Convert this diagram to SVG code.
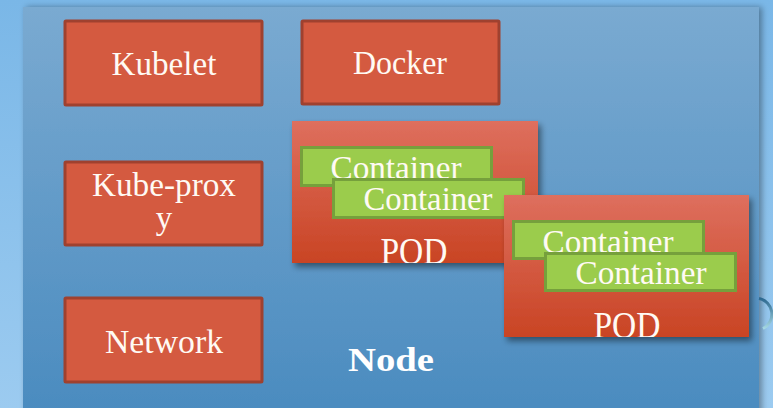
<svg xmlns="http://www.w3.org/2000/svg" width="773" height="408" viewBox="0 0 773 408">
  <defs>
    <linearGradient id="bg" x1="0" y1="0" x2="0" y2="1">
      <stop offset="0" stop-color="#7ab7e7"/>
      <stop offset="1" stop-color="#9ccbf0"/>
    </linearGradient>
    <linearGradient id="panel" x1="0" y1="0" x2="0" y2="1">
      <stop offset="0" stop-color="#7aaad1"/>
      <stop offset="1" stop-color="#4a8bbf"/>
    </linearGradient>
    <linearGradient id="pod" x1="0" y1="0" x2="0" y2="1">
      <stop offset="0" stop-color="#de6f5e"/>
      <stop offset="1" stop-color="#c94424"/>
    </linearGradient>
    <linearGradient id="ring" x1="0" y1="0" x2="0" y2="1">
      <stop offset="0" stop-color="#2c6890"/>
      <stop offset="1" stop-color="#a6d8e2"/>
    </linearGradient>
    <filter id="shadow" x="-10%" y="-10%" width="130%" height="130%">
      <feGaussianBlur in="SourceAlpha" stdDeviation="3"/>
      <feOffset dx="3" dy="4" result="b"/>
      <feComponentTransfer><feFuncA type="linear" slope="0.45"/></feComponentTransfer>
      <feMerge><feMergeNode/><feMergeNode in="SourceGraphic"/></feMerge>
    </filter>
    <filter id="panelShadow" x="-5%" y="-5%" width="110%" height="110%">
      <feGaussianBlur in="SourceAlpha" stdDeviation="3"/>
      <feOffset dx="3" dy="0"/>
      <feComponentTransfer><feFuncA type="linear" slope="0.35"/></feComponentTransfer>
      <feMerge><feMergeNode/><feMergeNode in="SourceGraphic"/></feMerge>
    </filter>
    <clipPath id="clipPod1"><rect x="292" y="121" width="246" height="142"/></clipPath>
    <clipPath id="clipPod2"><rect x="504" y="195" width="245" height="142"/></clipPath>
  </defs>
  <style>
    .comp { fill: #d45a40; stroke: #9f412f; stroke-width: 3; }
    .pod { fill: url(#pod); filter: url(#shadow); }
    .ctr { fill: #9bcc4c; stroke: #76a03c; stroke-width: 3; }
    .lbl { font-family: "Liberation Serif", "Times New Roman", serif; font-size: 33px; fill: #fffaf4; text-anchor: middle; }
    .podlbl { font-family: "Liberation Serif", "Times New Roman", serif; font-size: 37px; fill: #fffaf4; text-anchor: middle; }
    .title { font-family: "Liberation Serif", "Times New Roman", serif; font-size: 33px; font-weight: bold; fill: #ffffff; text-anchor: middle; }
  </style>

  <!-- backdrop and node panel -->
  <rect x="0" y="0" width="773" height="408" fill="url(#bg)"/>
  <rect x="23" y="7" width="736" height="410" fill="url(#panel)" filter="url(#panelShadow)"/>
  <path d="M 759 298.5 A 16 16 0 0 1 763 328.5" fill="none" stroke="url(#ring)" stroke-width="3"/>

  <g id="kubelet">
    <rect class="comp" x="65" y="21" width="197" height="84" rx="1"/>
    <text class="lbl" x="164" y="75" textLength="105" lengthAdjust="spacingAndGlyphs">Kubelet</text>
  </g>

  <g id="docker">
    <rect class="comp" x="302" y="21" width="197" height="83" rx="1"/>
    <text class="lbl" x="400" y="74" textLength="94" lengthAdjust="spacingAndGlyphs">Docker</text>
  </g>

  <g id="kube-proxy">
    <rect class="comp" x="65" y="162" width="197" height="83" rx="1"/>
    <text class="lbl" x="164" y="196" textLength="144" lengthAdjust="spacingAndGlyphs">Kube-prox</text>
    <text class="lbl" x="164" y="229">y</text>
  </g>

  <g id="network">
    <rect class="comp" x="65" y="298" width="197" height="84" rx="1"/>
    <text class="lbl" x="164" y="353" textLength="118" lengthAdjust="spacingAndGlyphs">Network</text>
  </g>

  <g id="pod-1">
    <rect class="pod" x="292" y="121" width="246" height="142"/>
    <g clip-path="url(#clipPod1)">
      <text class="podlbl" x="414" y="264" textLength="67" lengthAdjust="spacingAndGlyphs">POD</text>
    </g>
    <g id="pod-1-container-a">
      <rect class="ctr" x="301.5" y="147.5" width="190" height="38"/>
      <text class="lbl" x="396" y="179" textLength="131" lengthAdjust="spacingAndGlyphs">Container</text>
    </g>
    <g id="pod-1-container-b">
      <rect class="ctr" x="333.5" y="179.5" width="190" height="38"/>
      <text class="lbl" x="428" y="210" textLength="129" lengthAdjust="spacingAndGlyphs">Container</text>
    </g>
  </g>

  <g id="pod-2">
    <rect class="pod" x="504" y="195" width="245" height="142"/>
    <g clip-path="url(#clipPod2)">
      <text class="podlbl" x="627" y="338" textLength="67" lengthAdjust="spacingAndGlyphs">POD</text>
    </g>
    <g id="pod-2-container-a">
      <rect class="ctr" x="513.5" y="221.5" width="190" height="37"/>
      <text class="lbl" x="608" y="253" textLength="131" lengthAdjust="spacingAndGlyphs">Container</text>
    </g>
    <g id="pod-2-container-b">
      <rect class="ctr" x="545.5" y="253.5" width="190" height="37"/>
      <text class="lbl" x="641" y="284" textLength="131" lengthAdjust="spacingAndGlyphs">Container</text>
    </g>
  </g>

  <g id="node-label">
    <text class="title" x="391" y="371" textLength="86" lengthAdjust="spacingAndGlyphs">Node</text>
  </g>

  <!-- no connectors between these components -->
  <g id="connectors"/>
</svg>
